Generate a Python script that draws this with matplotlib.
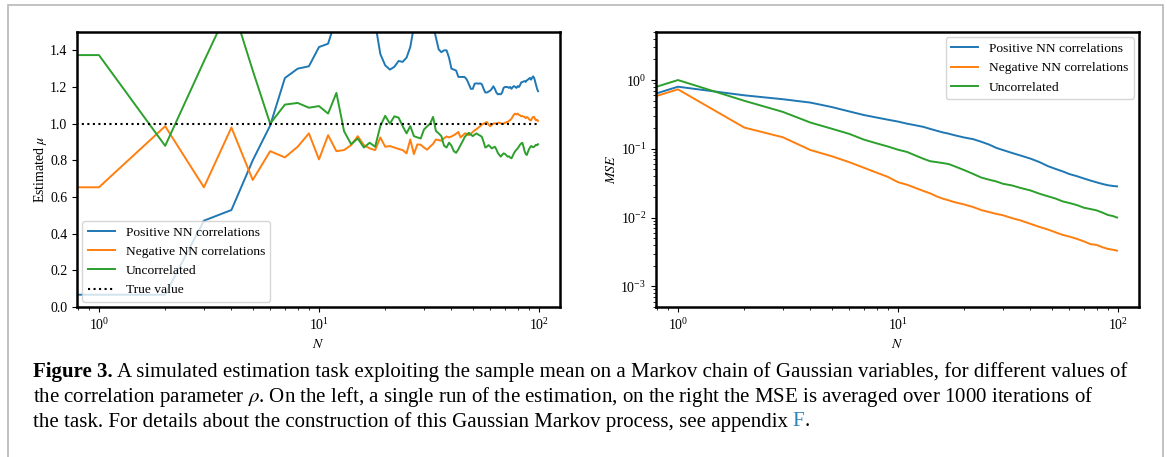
import numpy as np
import matplotlib
matplotlib.use("Agg")
import matplotlib.pyplot as plt
from matplotlib.patches import Rectangle
from matplotlib.transforms import IdentityTransform

plt.rcParams.update({
    "font.family": ["Liberation Serif", "DejaVu Serif"],
    "mathtext.fontset": "stix",
    "font.size": 10,
})

# ---- left panel: one run of the estimation (index = N, N=0 is clipped on log x)
N_run = np.arange(100)
mu_pos = [0.067, 0.067, 0.067, 0.471, 0.529, 0.80, 0.99, 1.249, 1.30, 1.313,
          1.418, 1.436, 1.58, 1.66, 1.72, 1.74, 1.72, 1.66, 1.55, 1.38,
          1.318, 1.295, 1.31, 1.342, 1.337, 1.36, 1.418, 1.53, 1.60, 1.65,
          1.67, 1.65, 1.60, 1.54, 1.47, 1.405, 1.39, 1.40, 1.40, 1.36,
          1.30, 1.295, 1.29, 1.255, 1.255, 1.255, 1.254, 1.24, 1.215, 1.19,
          1.19, 1.218, 1.22, 1.218, 1.22, 1.215, 1.19, 1.17, 1.17, 1.175,
          1.18, 1.19, 1.204, 1.19, 1.17, 1.16, 1.162, 1.16, 1.17, 1.195,
          1.20, 1.20, 1.20, 1.195, 1.20, 1.19, 1.20, 1.205, 1.20, 1.195,
          1.205, 1.20, 1.21, 1.225, 1.227, 1.23, 1.232, 1.228, 1.236, 1.24,
          1.245, 1.25, 1.24, 1.25, 1.258, 1.25, 1.23, 1.21, 1.19, 1.177]
mu_neg = [0.653, 0.653, 0.986, 0.653, 0.979, 0.693, 0.85, 0.816, 0.874, 0.947,
          0.805, 0.937, 0.85, 0.856, 0.883, 0.932, 0.883, 0.865, 0.856, 0.925,
          0.874, 0.878, 0.87, 0.862, 0.856, 0.838, 0.914, 0.834, 0.887, 0.885,
          0.87, 0.858, 0.875, 0.89, 0.914, 0.91, 0.907, 0.92, 0.93, 0.925,
          0.93, 0.937, 0.945, 0.955, 0.925, 0.935, 0.947, 0.945, 0.937, 0.945,
          0.955, 0.964, 0.97, 0.978, 0.986, 0.995, 1.0, 1.005, 1.009, 0.995,
          0.986, 0.994, 1.0, 1.002, 1.0, 1.004, 1.006, 1.002, 1.0, 1.0,
          1.005, 1.008, 1.009, 1.015, 1.02, 1.027, 1.04, 1.05, 1.055, 1.05,
          1.055, 1.048, 1.046, 1.04, 1.042, 1.038, 1.037, 1.03, 1.036, 1.033,
          1.025, 1.02, 1.018, 1.03, 1.037, 1.037, 1.025, 1.018, 1.022, 1.015]
mu_unc = [1.374, 1.374, 0.879, 1.34, 1.66, 1.29, 1.0, 1.104, 1.113, 1.087,
          1.096, 1.055, 1.168, 0.959, 0.888, 0.919, 0.87, 0.896, 0.874, 0.987,
          1.043, 1.0, 1.04, 1.033, 0.987, 0.947, 0.987, 0.932, 0.925, 0.919,
          0.968, 0.985, 1.0, 1.037, 0.96, 0.947, 0.932, 0.88, 0.87, 0.896,
          0.88, 0.85, 0.841, 0.86, 0.883, 0.905, 0.928, 0.94, 0.95, 0.94,
          0.932, 0.94, 0.947, 0.94, 0.935, 0.928, 0.90, 0.87, 0.875, 0.883,
          0.875, 0.865, 0.87, 0.874, 0.86, 0.84, 0.83, 0.82, 0.83, 0.838,
          0.835, 0.828, 0.82, 0.822, 0.815, 0.811, 0.825, 0.84, 0.85, 0.858,
          0.865, 0.875, 0.885, 0.892, 0.896, 0.875, 0.85, 0.835, 0.829, 0.845,
          0.86, 0.87, 0.878, 0.875, 0.872, 0.874, 0.88, 0.885, 0.882, 0.888]
mu_true = [1.0] * 100

# ---- right panel: MSE averaged over 1000 runs
N_mse = [0, 1, 2, 3, 4, 5, 6, 7, 8, 9, 10, 11, 12, 13, 14, 15, 16, 17, 18, 20,
         22, 24, 26, 28, 30, 33, 36, 40, 44, 48, 52, 56, 60, 65, 70, 75, 80, 85,
         90, 95, 99]
mse_pos = [0, 0.80, 0.60, 0.526, 0.47, 0.405, 0.35, 0.31, 0.285, 0.265, 0.249,
           0.232, 0.22, 0.209, 0.195, 0.183, 0.173, 0.166, 0.158, 0.146, 0.138,
           0.126, 0.115, 0.103, 0.096, 0.087, 0.080, 0.072, 0.064, 0.056, 0.051,
           0.047, 0.043, 0.040, 0.037, 0.0345, 0.0325, 0.0308, 0.0295, 0.0288,
           0.0284]
mse_neg = [0, 0.733, 0.204, 0.147, 0.096, 0.078, 0.064, 0.053, 0.045, 0.039,
           0.0327, 0.030, 0.027, 0.0245, 0.0225, 0.0203, 0.0188, 0.0178, 0.0168,
           0.0155, 0.0142, 0.0128, 0.012, 0.0113, 0.0108, 0.0098, 0.0091, 0.0081,
           0.0073, 0.0067, 0.0061, 0.0056, 0.0053, 0.0049, 0.0045, 0.0041,
           0.0040, 0.0037, 0.0035, 0.0034, 0.0033]
mse_unc = [0, 1.0, 0.50, 0.344, 0.241, 0.196, 0.165, 0.136, 0.12, 0.108, 0.097,
           0.09, 0.08, 0.072, 0.066, 0.064, 0.062, 0.06, 0.056, 0.049, 0.043,
           0.038, 0.0355, 0.0335, 0.031, 0.0293, 0.027, 0.0248, 0.0222, 0.0204,
           0.0189, 0.0172, 0.0163, 0.0152, 0.0139, 0.0133, 0.0127, 0.0118,
           0.0109, 0.0105, 0.0100]

labels = ["Positive NN correlations", "Negative NN correlations", "Uncorrelated"]

W, H = 1167, 457
fig = plt.figure(figsize=(W / 100, H / 100), dpi=100)
ax1 = fig.add_axes([77 / W, 1 - 307 / H, 483 / W, 275 / H])
ax2 = fig.add_axes([656 / W, 1 - 307 / H, 483 / W, 275 / H])

lw = 1.4
for y, lab in zip([mu_pos, mu_neg, mu_unc], labels):
  ax1.plot(N_run, y, lw=lw, label=lab)
ax1.plot(N_run, mu_true, "k:", lw=1.5, label="True value")
ax1.set_xscale("log")
ax1.set_ylim(0, 1.5)
ax1.set_xlabel("$N$")
ax1.set_ylabel(r"Estimated $\mu$", labelpad=1)
ax1.legend(loc="lower left", fontsize=9.7, borderaxespad=0.4)

for y, lab in zip([mse_pos, mse_neg, mse_unc], labels):
  ax2.plot(N_mse, y, lw=lw, label=lab)
ax2.set_xscale("log")
ax2.set_yscale("log")
ax2.set_ylim(5e-4, 5)
ax2.set_xlabel("$N$")
ax2.set_ylabel("$MSE$", labelpad=2)
ax2.legend(loc="upper right", fontsize=9.7, borderaxespad=0.4)

for ax in (ax1, ax2):
  for s in ax.spines.values():
    s.set_linewidth(1.8)
  ax.tick_params(labelsize=10)

# caption, built piece by piece in pixel coordinates
renderer = fig.canvas.get_renderer()
cap_fs = 15.0
px = IdentityTransform()

def put(x, y, s, **kw):
  t = fig.text(x, H - y, s, transform=px, fontsize=cap_fs, va="center", ha="left", **kw)
  return t.get_window_extent(renderer).x1

sp = cap_fs * 0.3
x = put(33, 372, "Figure 3.", weight="bold")
put(x + sp, 372, "A simulated estimation task exploiting the sample mean on a Markov chain of Gaussian variables, for different values of")
put(33, 397, r"the correlation parameter $\rho$. On the left, a single run of the estimation, on the right the MSE is averaged over 1000 iterations of")
x = put(33, 422, "the task. For details about the construction of this Gaussian Markov process, see appendix")
x = put(x + sp, 422, "F", color="#2b83ba")
put(x, 422, ".")

# light frame around the whole figure
fig.patches.append(Rectangle((8, -10), 1155, 462, transform=px, fill=False,
                             ec="#b8b8b8", lw=1.2))

fig.savefig("out.png", dpi=100)
